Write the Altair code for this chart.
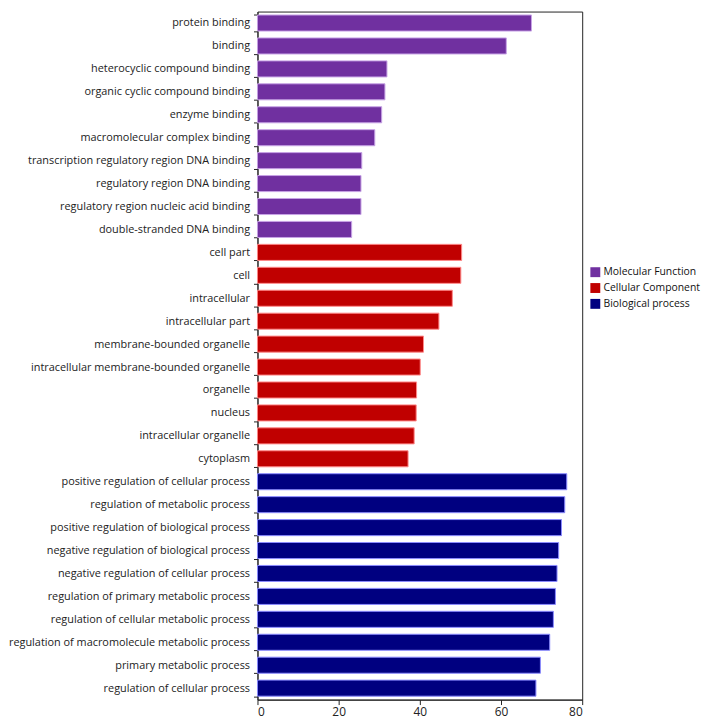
import altair as alt
import pandas as pd

terms = [
    'protein binding', 'binding', 'heterocyclic compound binding',
    'organic cyclic compound binding', 'enzyme binding', 'macromolecular complex binding',
    'transcription regulatory region DNA binding', 'regulatory region DNA binding',
    'regulatory region nucleic acid binding', 'double-stranded DNA binding',
    'cell part', 'cell', 'intracellular', 'intracellular part', 'membrane-bounded organelle',
    'intracellular membrane-bounded organelle', 'organelle', 'nucleus',
    'intracellular organelle', 'cytoplasm',
    'positive regulation of cellular process', 'regulation of metabolic process',
    'positive regulation of biological process', 'negative regulation of biological process',
    'negative regulation of cellular process', 'regulation of primary metabolic process',
    'regulation of cellular metabolic process', 'regulation of macromolecule metabolic process',
    'primary metabolic process', 'regulation of cellular process',
]
values = [
    67.5, 61.3, 31.9, 31.4, 30.6, 28.9, 25.7, 25.5, 25.5, 23.2,
    50.3, 50.1, 48.0, 44.7, 40.9, 40.1, 39.2, 39.1, 38.6, 37.1,
    76.2, 75.7, 74.9, 74.2, 73.8, 73.4, 72.9, 72.0, 69.7, 68.6,
]
groups = ['Molecular Function'] * 10 + ['Cellular Component'] * 10 + ['Biological process'] * 10
group_names = ['Molecular Function', 'Cellular Component', 'Biological process']
fill_colors = ['#7030A0', '#C00000', '#000080']
edge_colors = ['#c7a3e6', '#ff8a8a', '#8c8cff']

df = pd.DataFrame({'term': terms, 'value': values, 'group': groups})

font = 'Open Sans'

bars = alt.Chart(df).mark_bar(strokeWidth=1).encode(
    y=alt.Y('term:N', sort=terms, title=None,
            scale=alt.Scale(paddingInner=0.3, paddingOuter=0.15),
            axis=alt.Axis(tickBand='extent', tickSize=4, labelPadding=4, labelLimit=0,
                          domainColor='#222', tickColor='#222',
                          labelFontSize=11, labelColor='#222', labelFont=font)),
    x=alt.X('value:Q', title=None,
            scale=alt.Scale(domain=[0, 80], nice=False),
            axis=alt.Axis(values=[0, 20, 40, 60, 80], grid=False, tickSize=5,
                          domainColor='#222', tickColor='#222',
                          labelFontSize=12, labelColor='#222', labelFont=font)),
    fill=alt.Fill('group:N', scale=alt.Scale(domain=group_names, range=fill_colors),
                  legend=alt.Legend(title=None, orient='none', legendX=336, legendY=258,
                                    symbolType='square', symbolSize=100,
                                    symbolStrokeWidth=0, rowPadding=5, labelOffset=3,
                                    labelFontSize=10.5, labelColor='#111', labelFont=font)),
    stroke=alt.Stroke('group:N', scale=alt.Scale(domain=group_names, range=edge_colors),
                      legend=None),
).properties(
    width=328,
    height=695,
    padding={'left': 0, 'top': -6, 'right': 0, 'bottom': 0},
)

chart = bars.configure_view(stroke='#222', strokeWidth=1)

chart.save('out.html', embed_options={'renderer': 'svg', 'actions': False})
